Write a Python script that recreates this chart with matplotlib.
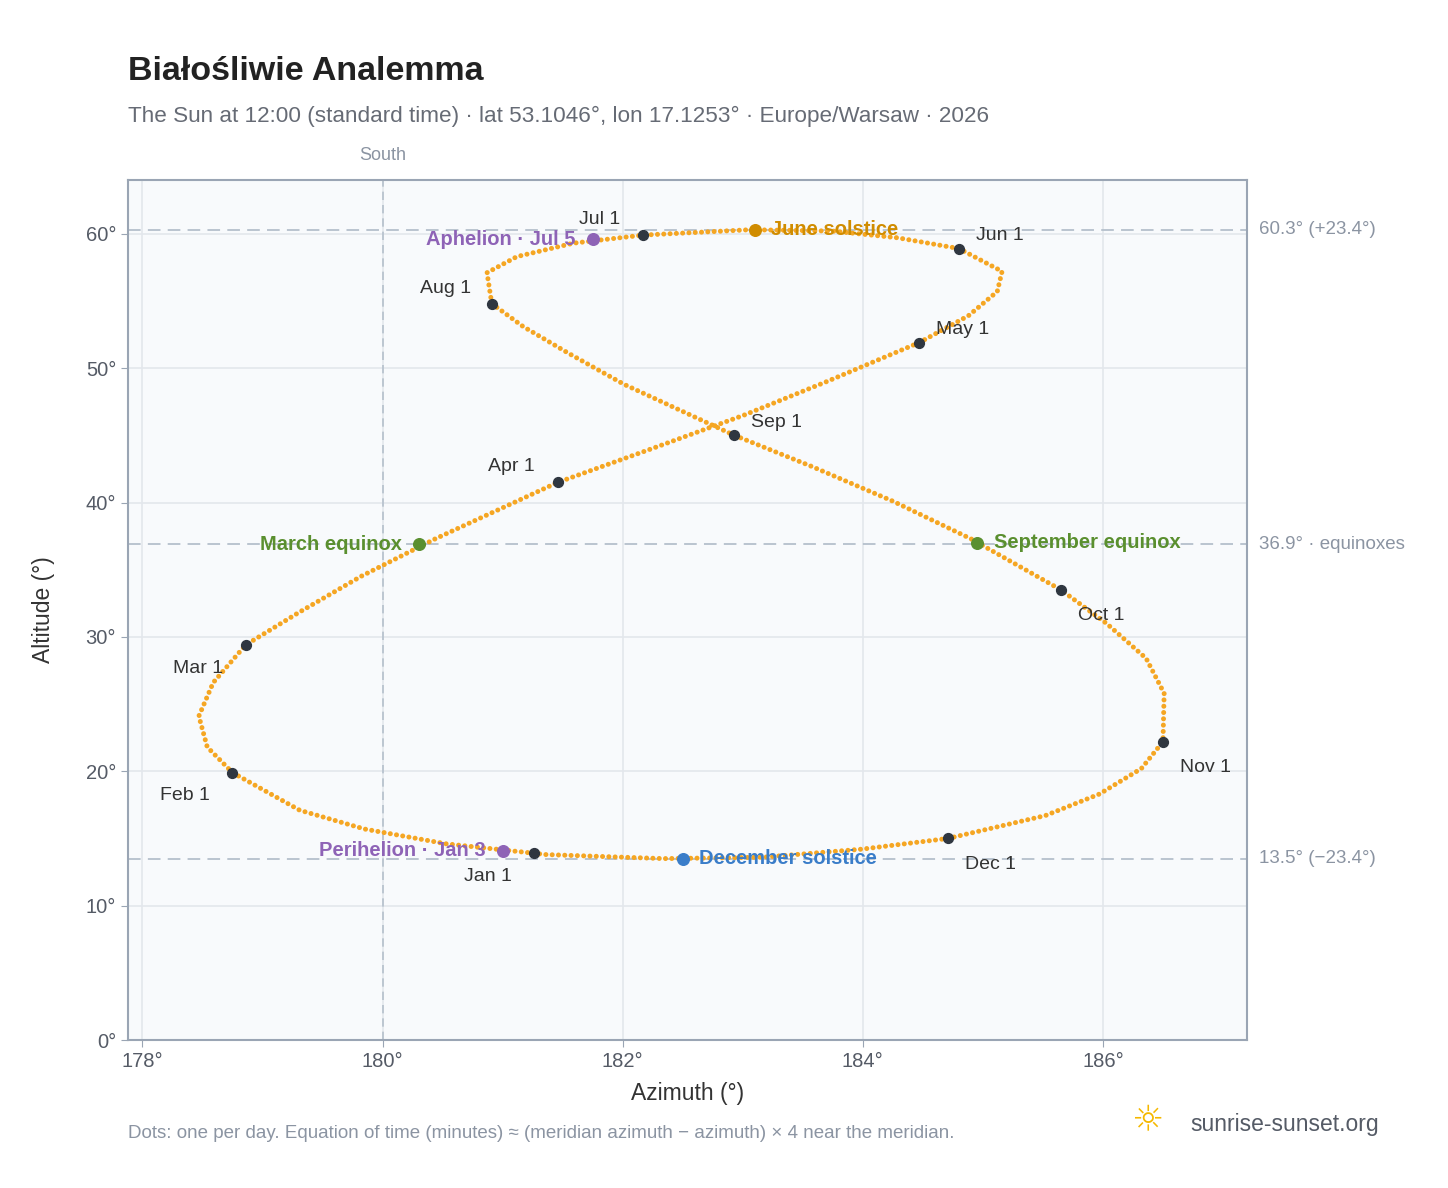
import matplotlib.pyplot as plt

plt.rcParams['font.family'] = ['Liberation Sans', 'DejaVu Sans']

# sun position at 12:00 CET, roughly weekly (1st, 8th, 15th, 22nd of each month)
azimuth = [181.26, 180.53, 179.85, 179.31, 178.75, 178.54, 178.47, 178.59,
           178.86, 179.30, 179.82, 180.44, 181.46, 182.21, 183.01, 183.70,
           184.47, 184.88, 185.12, 185.16, 184.80, 184.29, 183.75, 183.06,
           182.17, 181.59, 181.12, 180.87, 180.91, 181.17, 181.55, 182.01,
           182.93, 183.57, 184.25, 184.90, 185.65, 186.03, 186.36, 186.51,
           186.50, 186.32, 185.97, 185.52, 184.71, 183.99, 183.17, 182.34,
           181.36, 181.26]
altitude = [13.9, 14.6, 15.7, 17.1, 19.9, 21.8, 24.1, 26.6,
            29.4, 31.8, 34.5, 37.3, 41.5, 43.9, 46.5, 49.0,
            51.9, 53.9, 55.7, 57.2, 58.9, 59.7, 60.2, 60.3,
            59.9, 59.3, 58.3, 57.1, 54.8, 53.1, 51.1, 48.8,
            45.0, 42.7, 40.1, 37.3, 33.5, 31.0, 28.4, 25.8,
            22.2, 20.2, 18.3, 16.7, 15.0, 14.2, 13.6, 13.5,
            13.8, 13.9]
months = ['Jan 1', 'Feb 1', 'Mar 1', 'Apr 1', 'May 1', 'Jun 1',
          'Jul 1', 'Aug 1', 'Sep 1', 'Oct 1', 'Nov 1', 'Dec 1']
month_offsets = [(-50, -20), (-52, -20), (-52, -20), (-50, 8), (12, 6), (12, 6),
                 (-46, 8), (-52, 8), (12, 6), (12, -22), (12, -22), (12, -22)]

events = ['June solstice', 'December solstice', 'March equinox',
          'September equinox', 'Aphelion · Jul 5', 'Perihelion · Jan 3']
event_az = [183.1, 182.5, 180.3, 184.95, 181.75, 181.0]
event_alt = [60.3, 13.5, 36.9, 37.0, 59.6, 14.1]
event_colors = ['#d08c00', '#3a7dc9', '#5a8f2f', '#5a8f2f', '#8e63b6', '#8e63b6']
event_side = [1, 1, -1, 1, -1, -1]

ref_alt = [60.3, 36.9, 13.5]
ref_labels = ['60.3° (+23.4°)', '36.9° · equinoxes', '13.5° (−23.4°)']

fig = plt.figure(figsize=(14.48, 11.88), dpi=100)
ax = fig.add_axes([128/1448, 1 - 1040/1188, 1119/1448, 860/1188])
ax.set_facecolor('#f8fafc')
ax.set_xlim(177.88, 187.2)
ax.set_ylim(0, 64)
ax.set_xticks([178, 180, 182, 184, 186])
ax.set_xticklabels(['178°', '180°', '182°', '184°', '186°'])
ax.set_yticks(range(0, 61, 10))
ax.set_yticklabels([f'{v}°' for v in range(0, 61, 10)])
ax.grid(color='#e3e7ec', lw=1.2)
ax.set_axisbelow(True)
for s in ax.spines.values():
    s.set_color('#9aa5b4')
    s.set_linewidth(1.5)
ax.tick_params(colors='#555b66', labelsize=14.5, length=5, color='#9aa5b4')
ax.set_xlabel('Azimuth (°)', fontsize=16.5, color='#333', labelpad=8)
ax.set_ylabel('Altitude (°)', fontsize=16.5, color='#333', labelpad=22)

ax.axvline(180, color='#b5c0cc', ls=(0, (5, 3)), lw=1.2)
ax.text(180, 65.2, 'South', ha='center', va='bottom', color='#8b94a2', fontsize=13)
for y, lab in zip(ref_alt, ref_labels):
    ax.axhline(y, color='#b5c0cc', ls=(0, (7, 4)), lw=1.3)
    ax.text(187.2 + 0.1, y, lab, va='center', color='#8b94a2', fontsize=13.5,
            clip_on=False)

ax.plot(azimuth, altitude, color='#f5a623', lw=3.6,
        ls=(0, (0.01, 1.25)), dash_capstyle='round', zorder=3)

for i, (m, off) in enumerate(zip(months, month_offsets)):
    ax.scatter(azimuth[i * 4], altitude[i * 4], s=50, color='#2f3640', zorder=5)
    ax.annotate(m, (azimuth[i * 4], altitude[i * 4]), xytext=off,
                textcoords='offset points', fontsize=14, color='#333')

for name, x, y, c, side in zip(events, event_az, event_alt, event_colors, event_side):
    ax.scatter(x, y, s=70, color=c, zorder=6)
    ax.annotate(name, (x, y), xytext=(12 * side, 0), textcoords='offset points',
                ha='left' if side > 0 else 'right', va='center',
                fontsize=14.5, fontweight='bold', color=c, zorder=7)

fig.text(128/1448, 1 - 72/1188, 'Białośliwie Analemma', fontsize=24.5,
         fontweight='bold', color='#222', va='center')
fig.text(128/1448, 1 - 116/1188,
         'The Sun at 12:00 (standard time) · lat 53.1046°, lon 17.1253° · Europe/Warsaw · 2026',
         fontsize=16.2, color='#666b75', va='center')
fig.text(128/1448, 1 - 1133/1188,
         'Dots: one per day. Equation of time (minutes) ≈ (meridian azimuth − azimuth) × 4 near the meridian.',
         fontsize=13.5, color='#8b94a2', va='center')
fig.text(1190/1448, 1 - 1125/1188, 'sunrise-sunset.org', fontsize=16.5,
         color='#555b66', va='center')
fig.text(1147/1448, 1 - 1120/1188, '☼', fontsize=26, color='#f5b800',
         ha='center', va='center', family=['DejaVu Sans'])

fig.savefig('out.png', dpi=100)
